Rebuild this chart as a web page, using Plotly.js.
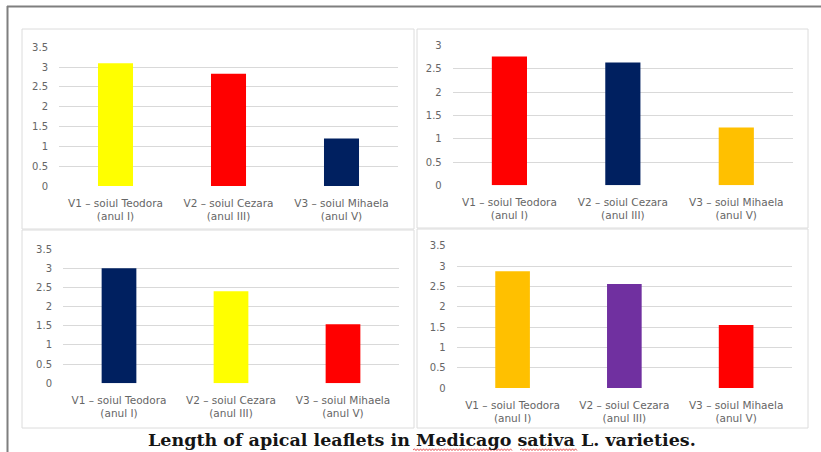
<!DOCTYPE html>
<html>
<head>
<meta charset="utf-8">
<script src="https://cdn.plot.ly/plotly-3.0.1.min.js"></script>
<style>html,body{margin:0;padding:0;background:#fff;}#chart{width:821px;height:452px;}</style>
</head>
<body>
<div id="chart"></div>
<script>
// ---- data ----
const categories = ['V1 – soiul Teodora<br>(anul I)', 'V2 – soiul Cezara<br>(anul III)', 'V3 – soiul Mihaela<br>(anul V)'];
const panel1Values = [3.10, 2.83, 1.20];
const panel2Values = [2.77, 2.64, 1.24];
const panel3Values = [3.00, 2.40, 1.54];
const panel4Values = [2.87, 2.56, 1.55];
const titleText = 'Length of apical leaflets in Medicago sativa L. varieties.';

// ---- styles ----
const YELLOW = '#FFFF00', RED = '#FF0000', NAVY = '#002060', AMBER = '#FFC000', PURPLE = '#7030A0';
const panel1Colors = [YELLOW, RED, NAVY];
const panel2Colors = [RED, NAVY, AMBER];
const panel3Colors = [NAVY, YELLOW, RED];
const panel4Colors = [AMBER, PURPLE, RED];

const W = 821, H = 452;
const dx = (a, b) => [a / W, b / W];
const dy = (top, bottom) => [1 - bottom / H, 1 - top / H];
const px = v => v / W, py = v => 1 - v / H;

const tickFont = {family: 'DejaVu Sans, Verdana, sans-serif', size: 10.5, color: '#666666'};
const yTickFont = {family: 'DejaVu Sans, Verdana, sans-serif', size: 10, color: '#666666'};
const GRID = '#d9d9d9';

function bar(values, colors, n) {
  return {type: 'bar', x: categories, y: values, marker: {color: colors},
    xaxis: n === 1 ? 'x' : 'x' + n, yaxis: n === 1 ? 'y' : 'y' + n,
    hoverinfo: 'skip', showlegend: false};
}
function xax(domain, anchor) {
  return {domain: domain, anchor: anchor, type: 'category', showgrid: false, zeroline: false,
    showline: false, ticks: '', tickfont: tickFont, fixedrange: true, ticklabelstandoff: 9};
}
function yax(domain, anchor, maxv) {
  return {domain: domain, anchor: anchor, range: [0, maxv], dtick: 0.5, tick0: 0,
    showgrid: true, gridcolor: GRID, gridwidth: 1, zeroline: false, showline: false,
    ticks: '', tickfont: yTickFont, fixedrange: true, ticklabelstandoff: 10};
}

const data = [
  bar(panel1Values, panel1Colors, 1),
  bar(panel2Values, panel2Colors, 2),
  bar(panel3Values, panel3Colors, 3),
  bar(panel4Values, panel4Colors, 4)
];

// squiggly spell-check underline (decoration)
function squiggle(x0, x1, y) {
  let d = 'M' + px(x0) + ',' + py(y);
  let up = true;
  for (let x = x0 + 1.5; x <= x1; x += 1.5) {
    d += ' L' + px(x) + ',' + py(y + (up ? -1.2 : 0.6));
    up = !up;
  }
  return {type: 'path', xref: 'paper', yref: 'paper', path: d, line: {color: '#e03030', width: 0.8}};
}

const boxLine = {color: '#dcdcdc', width: 1};
const shapes = [
  {type: 'rect', xref: 'paper', yref: 'paper', x0: px(22), x1: px(414), y0: py(229), y1: py(29), line: boxLine},
  {type: 'rect', xref: 'paper', yref: 'paper', x0: px(417), x1: px(808), y0: py(228), y1: py(29), line: boxLine},
  {type: 'rect', xref: 'paper', yref: 'paper', x0: px(22), x1: px(414), y0: py(428), y1: py(230), line: boxLine},
  {type: 'rect', xref: 'paper', yref: 'paper', x0: px(417), x1: px(808), y0: py(428), y1: py(229), line: boxLine},
  {type: 'line', xref: 'paper', yref: 'paper', x0: px(7), x1: 1, y0: py(6.5), y1: py(6.5), line: {color: '#7f7f7f', width: 2}},
  {type: 'line', xref: 'paper', yref: 'paper', x0: px(7.5), x1: px(7.5), y0: py(6), y1: 0, line: {color: '#7f7f7f', width: 2}},
  squiggle(413, 512, 450),
  squiggle(520, 577, 450)
];

const layout = {
  width: W, height: H,
  margin: {l: 0, r: 0, t: 0, b: 0},
  paper_bgcolor: '#ffffff', plot_bgcolor: 'rgba(0,0,0,0)',
  bargap: 0.69,
  showlegend: false,
  xaxis: xax(dx(59, 398), 'y'),
  yaxis: yax(dy(47.3, 186), 'x', 3.5),
  xaxis2: xax(dx(452.7, 793), 'y2'),
  yaxis2: yax(dy(45.7, 185.3), 'x2', 3),
  xaxis3: xax(dx(63, 399), 'y3'),
  yaxis3: yax(dy(249, 383.3), 'x3', 3.5),
  xaxis4: xax(dx(456.7, 792), 'y4'),
  yaxis4: yax(dy(245.7, 388), 'x4', 3.5),
  shapes: shapes,
  annotations: [{
    text: '<b>' + titleText + '</b>', xref: 'paper', yref: 'paper',
    x: px(421.5), y: py(440), xanchor: 'center', yanchor: 'middle', showarrow: false,
    font: {family: 'DejaVu Serif, serif', size: 17.5, color: '#151515'}
  }]
};

Plotly.newPlot('chart', data, layout, {displayModeBar: false, staticPlot: true});
</script>
</body>
</html>
